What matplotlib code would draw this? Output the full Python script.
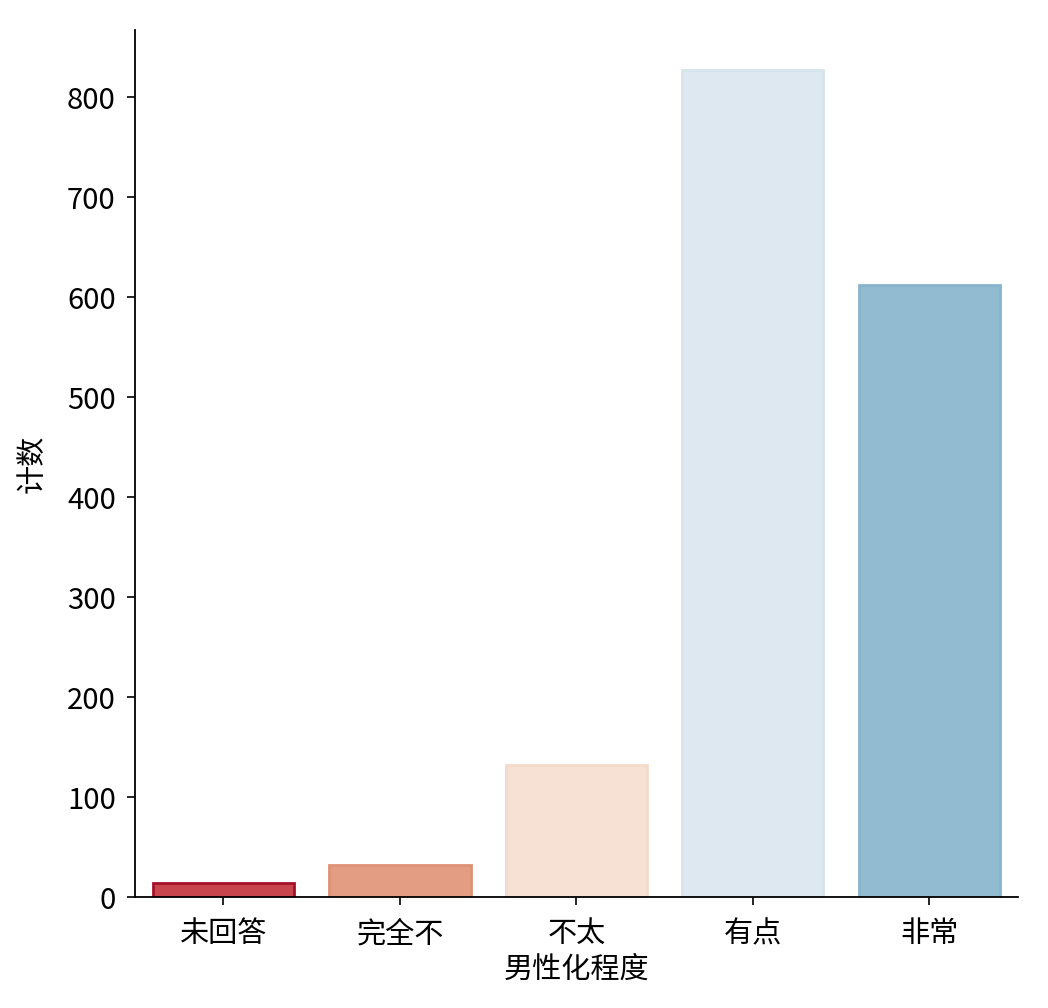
import numpy as np
from matplotlib import pyplot as plt

plt.rcParams['font.family'] = ['Noto Sans CJK SC', 'DejaVu Sans']

# data
labels = ['未回答', '完全不', '不太', '有点', '非常']
counts = [14, 32, 132, 827, 612]
fills = ['#c9454d', '#e39d82', '#f6e1d4', '#dde8f0', '#92bbd2']
edges = ['#a3122a', '#de9276', '#f3dacb', '#d6e4ee', '#87b3cc']

fig = plt.figure(figsize=(10.48, 10.08), dpi=100)
ax = fig.add_axes([0.129, 0.110, 0.842, 0.860])

x = np.arange(len(labels))
ax.bar(x, counts, width=0.8, color=fills, edgecolor=edges, linewidth=2)

ax.set_xlim(-0.5, len(labels) - 0.5)
ax.set_ylim(0, 867)
ax.set_xticks(x)
ax.set_xticklabels(labels)
ax.set_yticks(np.arange(0, 900, 100))
ax.tick_params(labelsize=21, length=6, width=1.2)
ax.tick_params(axis='x', pad=10)
ax.tick_params(axis='y', pad=8)
ax.set_xlabel('男性化程度', fontsize=21, labelpad=4)
ax.set_ylabel('计数', fontsize=21, labelpad=14)

for s in ['top', 'right']:
    ax.spines[s].set_visible(False)
for s in ['left', 'bottom']:
    ax.spines[s].set_linewidth(1.3)

fig.savefig('out.png', dpi=100)
